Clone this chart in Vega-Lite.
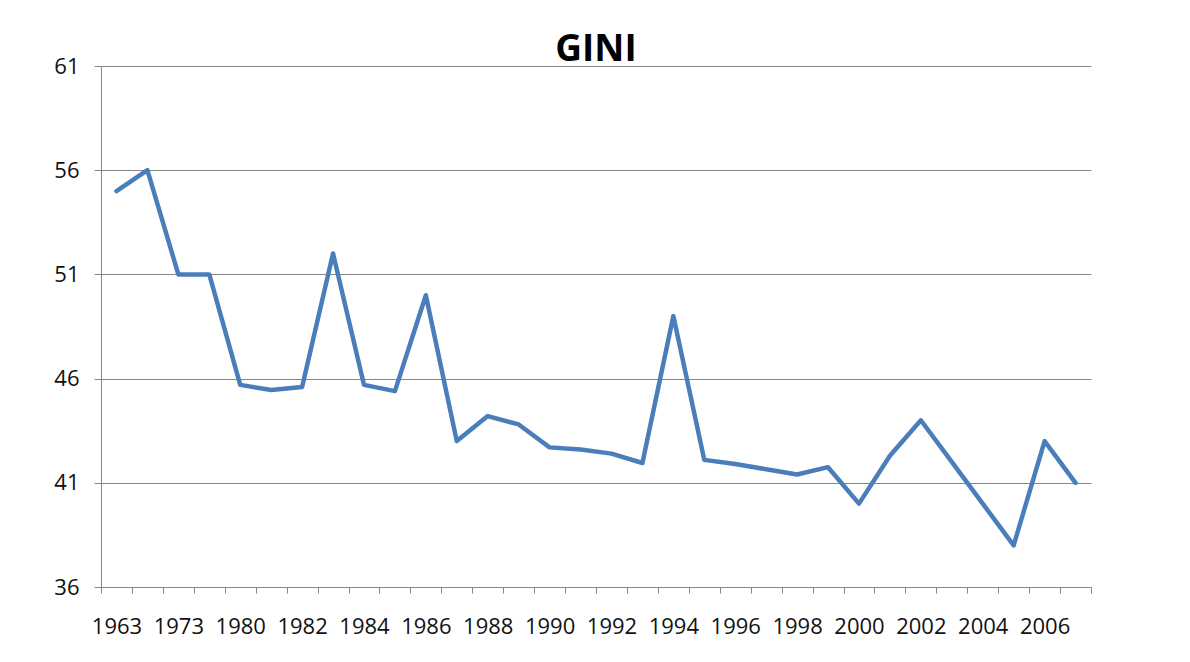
{
  "$schema": "https://vega.github.io/schema/vega-lite/v6.json",
  "autosize": "none",
  "width": 990,
  "height": 521,
  "padding": {"left": 101, "top": 66, "right": 99, "bottom": 75},
  "background": "white",
  "title": {
    "text": "GINI",
    "font": "Open Sans",
    "fontSize": 37,
    "fontWeight": "bold",
    "color": "#000000",
    "anchor": "middle",
    "baseline": "bottom",
    "offset": 0,
    "dy": 51
  },
  "data": {
    "values": [
      {"year": "1963", "gini": 55.0},
      {"year": "1968", "gini": 56.0},
      {"year": "1973", "gini": 51.0},
      {"year": "1977", "gini": 51.0},
      {"year": "1980", "gini": 45.7},
      {"year": "1981", "gini": 45.45},
      {"year": "1982", "gini": 45.6},
      {"year": "1983", "gini": 52.0},
      {"year": "1984", "gini": 45.7},
      {"year": "1985", "gini": 45.4},
      {"year": "1986", "gini": 50.0},
      {"year": "1987", "gini": 43.0},
      {"year": "1988", "gini": 44.2},
      {"year": "1989", "gini": 43.8},
      {"year": "1990", "gini": 42.7},
      {"year": "1991", "gini": 42.6},
      {"year": "1992", "gini": 42.4},
      {"year": "1993", "gini": 41.95},
      {"year": "1994", "gini": 49.0},
      {"year": "1995", "gini": 42.1},
      {"year": "1996", "gini": 41.9},
      {"year": "1997", "gini": 41.65},
      {"year": "1998", "gini": 41.4},
      {"year": "1999", "gini": 41.75},
      {"year": "2000", "gini": 40.0},
      {"year": "2001", "gini": 42.3},
      {"year": "2002", "gini": 44.0},
      {"year": "2003", "gini": 42.0},
      {"year": "2004", "gini": 40.0},
      {"year": "2005", "gini": 38.0},
      {"year": "2006", "gini": 43.0},
      {"year": "2007", "gini": 41.0}
    ]
  },
  "mark": {"type": "line", "color": "#4a7ebb", "strokeWidth": 4.5, "strokeJoin": "round", "strokeCap": "round"},
  "encoding": {
    "x": {
      "field": "year",
      "type": "ordinal",
      "sort": null,
      "scale": {"type": "band", "paddingInner": 0, "paddingOuter": 0},
      "axis": {
        "title": null,
        "labelAngle": 0,
        "tickBand": "extent",
        "tickSize": 6,
        "tickColor": "#868686",
        "domainColor": "#868686",
        "labelFont": "Open Sans",
        "labelFontSize": 22,
        "labelColor": "#111111",
        "labelPadding": 23,
        "labelOverlap": false,
        "labelExpr": "indexof(['1963','1973','1980','1982','1984','1986','1988','1990','1992','1994','1996','1998','2000','2002','2004','2006'], datum.value) >= 0 ? datum.label : ''"
      }
    },
    "y": {
      "field": "gini",
      "type": "quantitative",
      "scale": {"domain": [36, 61], "nice": false, "zero": false},
      "axis": {
        "title": null,
        "values": [36, 41, 46, 51, 56, 61],
        "grid": true,
        "gridColor": "#868686",
        "gridWidth": 1,
        "tickSize": 7,
        "tickColor": "#868686",
        "domainColor": "#868686",
        "labelFont": "Open Sans",
        "labelFontSize": 22,
        "labelColor": "#111111",
        "labelPadding": 15
      }
    }
  },
  "config": {
    "view": {"stroke": null}
  }
}
